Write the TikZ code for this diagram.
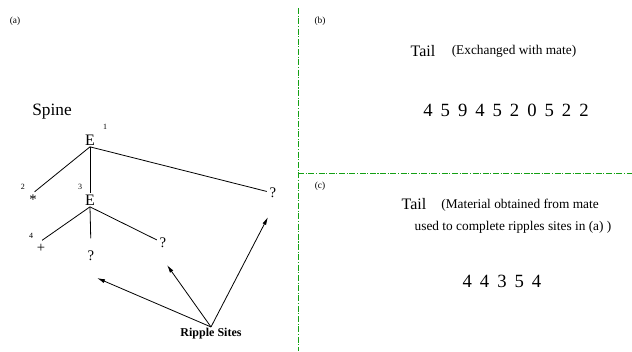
\documentclass[tikz,border=0pt]{standalone}
\usepackage{fontspec}
\setmainfont{Liberation Serif}
\usetikzlibrary{arrows.meta,positioning}
\definecolor{divgreen}{RGB}{20,160,20}
\newcommand{\gp}{\hspace{6pt}}

\begin{document}
\begin{tikzpicture}[x=0.75pt,y=-0.75pt,
    every node/.style={inner sep=1pt},
    big/.style={font=\fontsize{12}{14}\selectfont},
    leaf/.style={font=\fontsize{11}{13}\selectfont,inner sep=2pt,text height=6pt,text depth=0pt},
    idx/.style={font=\fontsize{6}{7}\selectfont},
    tag/.style={font=\fontsize{7}{8}\selectfont},
    note/.style={font=\fontsize{10}{12}\selectfont},
    digs/.style={font=\fontsize{14}{16}\selectfont},
    divider/.style={divgreen,line width=0.7pt,dash pattern=on 4.5pt off 1.2pt on 0.8pt off 1.2pt},
    branch/.style={line width=0.6pt},
    pointer/.style={line width=0.6pt,-{Latex[length=6pt,width=3pt]}}]
  \useasboundingbox (0,0) rectangle (632,351);

  % 区切り線
  \coordinate (vtop) at (298,8);
  \coordinate (vbot) at (298,351);
  \coordinate (hl) at (298,173);
  \coordinate (hr) at (632,173);
  \draw[divider] (vtop) -- (vbot);
  \draw[divider] (hl) -- (hr);

  % (a) 背骨
  \node[tag] (labA) at (15,21) {(a)};
  \node[font=\fontsize{13}{15}\selectfont] (spine) at (52,112) {Spine};
  \node[big] (E1) at (90,140) {E};
  \node[idx] (n1) at (105,127) {1};
  \node[leaf] (star) at (33,200) {*};
  \node[idx] (n2) at (23,187) {2};
  \node[big] (E3) at (90,200) {E};
  \node[idx] (n3) at (80,187) {3};
  \node[leaf] (qA) at (273,193) {?};
  \node[leaf] (plus) at (41,248) {+};
  \node[idx] (n4) at (31,236) {4};
  \node[leaf] (qB) at (91,256) {?};
  \node[leaf] (qC) at (163,243) {?};

  \draw[branch,shorten >=1.5pt] (E1.south) -- (star.north);
  \draw[branch] (E1.south) -- (E3.north);
  \draw[branch] (E1.south) -- (qA);
  \draw[branch,shorten >=1pt] (E3.south) -- (plus.north);
  \draw[branch,shorten >=8pt] (E3.south) -- (qB.north);
  \draw[branch] (E3.south) -- (qC);

  % リップルサイト
  \node[font=\fontsize{9}{10}\selectfont\bfseries] (sites) at (211,334) {Ripple Sites};
  \coordinate (tipB) at (97,278);
  \coordinate (tipC) at (167,265);
  \coordinate (tipA) at (268,217);
  \draw[pointer] (sites.north) -- (tipB);
  \draw[pointer] (sites.north) -- (tipC);
  \draw[pointer] (sites.north) -- (tipA);

  % (b)
  \node[tag] (labB) at (320,21) {(b)};
  \node[big] (tailB) at (423,51) {Tail};
  \node[note] (exch) at (514,51) {(Exchanged with mate)};
  \node[digs] (seqB) at (506,110) {4\gp5\gp9\gp4\gp5\gp2\gp0\gp5\gp2\gp2};

  % (c)
  \node[tag] (labC) at (320,186) {(c)};
  \node[big] (tailC) at (414,204) {Tail};
  \node[note] (mat1) at (520,205) {(Material obtained from mate};
  \node[note] (mat2) at (513,227) {used to complete ripples sites in (a) )};
  \node[digs] (seqC) at (502,281) {4\gp4\gp3\gp5\gp4};
\end{tikzpicture}
\end{document}
